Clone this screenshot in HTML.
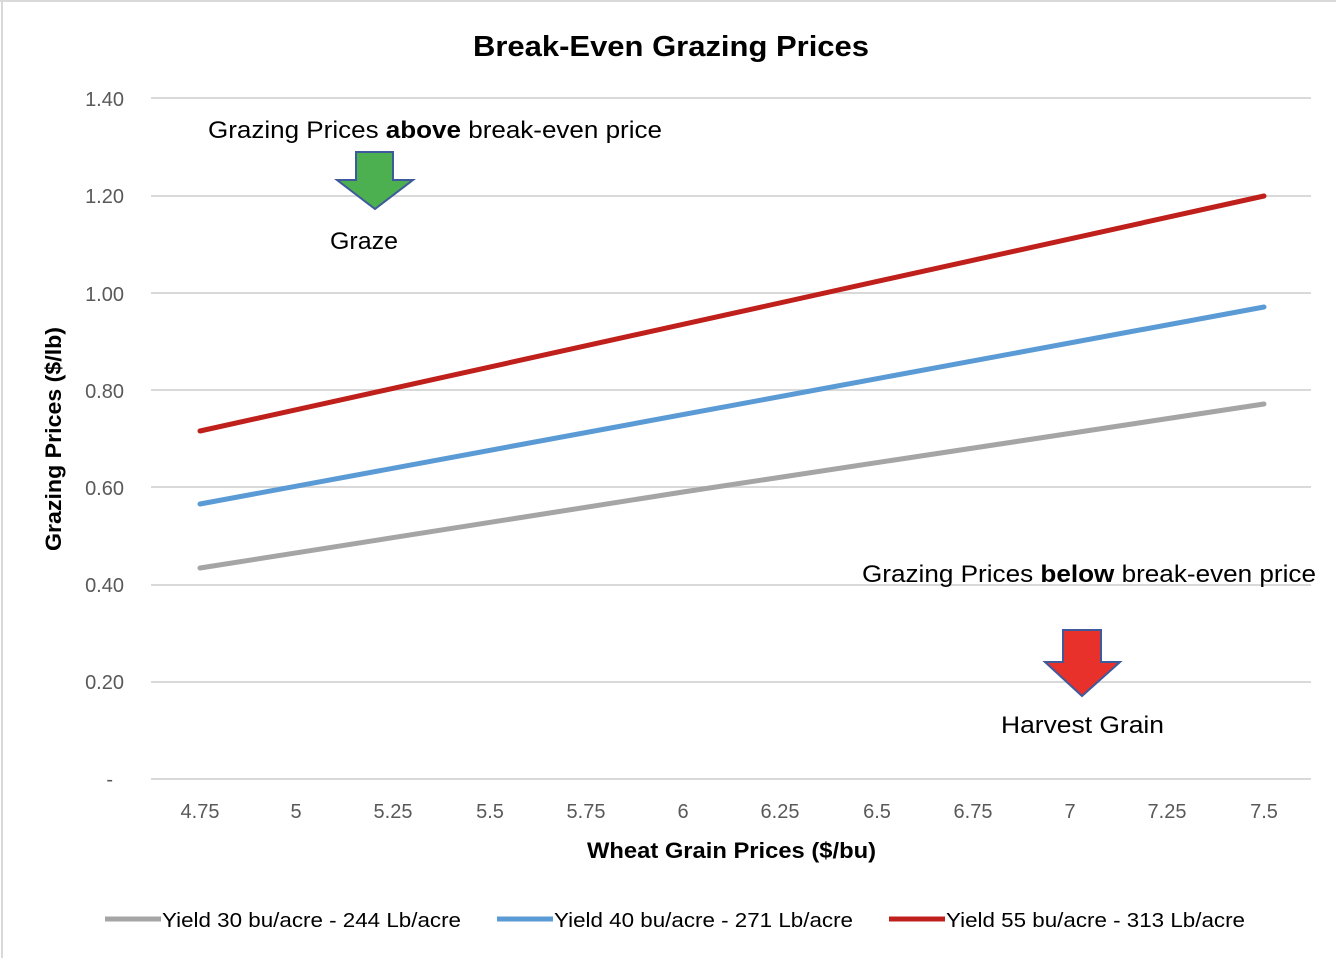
<!DOCTYPE html>
<html><head><meta charset="utf-8"><style>
html,body{margin:0;padding:0;background:#fff;}
svg{display:block;font-family:"Liberation Sans",Calibri,sans-serif;}
</style></head><body>
<svg width="1336" height="958" viewBox="0 0 1336 958" xmlns="http://www.w3.org/2000/svg">
<rect x="0" y="0" width="1336" height="958" fill="#fff"/>
<line x1="2" y1="0" x2="2" y2="958" stroke="#d9d9d9" stroke-width="2"/>
<line x1="0" y1="1" x2="1336" y2="1" stroke="#d9d9d9" stroke-width="2"/>
<text x="473" y="56" textLength="396" lengthAdjust="spacingAndGlyphs" font-size="29" font-weight="bold" fill="#000">Break-Even Grazing Prices</text>
<g stroke="#d9d9d9" stroke-width="2">
<line x1="151" y1="98" x2="1311" y2="98"/>
<line x1="151" y1="196" x2="1311" y2="196"/>
<line x1="151" y1="293" x2="1311" y2="293"/>
<line x1="151" y1="390" x2="1311" y2="390"/>
<line x1="151" y1="487" x2="1311" y2="487"/>
<line x1="151" y1="585" x2="1311" y2="585"/>
<line x1="151" y1="682" x2="1311" y2="682"/>
<line x1="151" y1="779" x2="1311" y2="779"/>
</g>
<g font-size="20" fill="#595959" text-anchor="end">
<text x="124" y="106">1.40</text>
<text x="124" y="203">1.20</text>
<text x="124" y="301">1.00</text>
<text x="124" y="398">0.80</text>
<text x="124" y="495">0.60</text>
<text x="124" y="592">0.40</text>
<text x="124" y="689">0.20</text>
<text x="113" y="786">-</text>
</g>
<g font-size="20" fill="#595959" text-anchor="middle">
<text x="200" y="818">4.75</text><text x="296" y="818">5</text><text x="393" y="818">5.25</text><text x="490" y="818">5.5</text><text x="586" y="818">5.75</text><text x="683" y="818">6</text><text x="780" y="818">6.25</text><text x="877" y="818">6.5</text><text x="973" y="818">6.75</text><text x="1070" y="818">7</text><text x="1167" y="818">7.25</text><text x="1264" y="818">7.5</text>
</g>
<text x="587" y="858" textLength="289" lengthAdjust="spacingAndGlyphs" font-size="22" font-weight="bold" fill="#000">Wheat Grain Prices ($/bu)</text>
<text transform="translate(61,551) rotate(-90)" textLength="224" lengthAdjust="spacingAndGlyphs" font-size="22" font-weight="bold" fill="#000">Grazing Prices ($/lb)</text>
<g fill="none" stroke-width="5" stroke-linecap="round">
<polyline stroke="#a5a5a5" points="200,568 683,492 1264,404"/>
<polyline stroke="#5b9bd5" points="200,504 1264,307"/>
<polyline stroke="#c0201c" points="200,431 1264,196"/>
</g>
<text x="208" y="138" textLength="454" lengthAdjust="spacingAndGlyphs" font-size="24" fill="#000">Grazing Prices <tspan font-weight="bold">above</tspan> break-even price</text>
<polygon points="356,152 393,152 393,180 413,180 375,209 337,180 356,180" fill="#4caf50" stroke="#3f5a9a" stroke-width="2"/>
<text x="330" y="249" textLength="68" lengthAdjust="spacingAndGlyphs" font-size="24" fill="#000">Graze</text>
<text x="862" y="582" textLength="454" lengthAdjust="spacingAndGlyphs" font-size="24" fill="#000">Grazing Prices <tspan font-weight="bold">below</tspan> break-even price</text>
<polygon points="1063,630 1101,630 1101,662 1120,662 1082,696 1045,662 1063,662" fill="#e8312a" stroke="#3f5a9a" stroke-width="2"/>
<text x="1001" y="733" textLength="163" lengthAdjust="spacingAndGlyphs" font-size="24" fill="#000">Harvest Grain</text>
<g stroke-width="5">
<line x1="105" y1="919" x2="161" y2="919" stroke="#a5a5a5"/>
<line x1="497" y1="919" x2="553" y2="919" stroke="#5b9bd5"/>
<line x1="889" y1="919" x2="945" y2="919" stroke="#c0201c"/>
</g>
<g font-size="20" fill="#000" xml:space="preserve">
<text x="162" y="927" textLength="299" lengthAdjust="spacingAndGlyphs">Yield 30 bu/acre -  244 Lb/acre</text>
<text x="554" y="927" textLength="299" lengthAdjust="spacingAndGlyphs">Yield 40 bu/acre -  271 Lb/acre</text>
<text x="946" y="927" textLength="299" lengthAdjust="spacingAndGlyphs">Yield 55 bu/acre -  313 Lb/acre</text>
</g>
</svg>
</body></html>
